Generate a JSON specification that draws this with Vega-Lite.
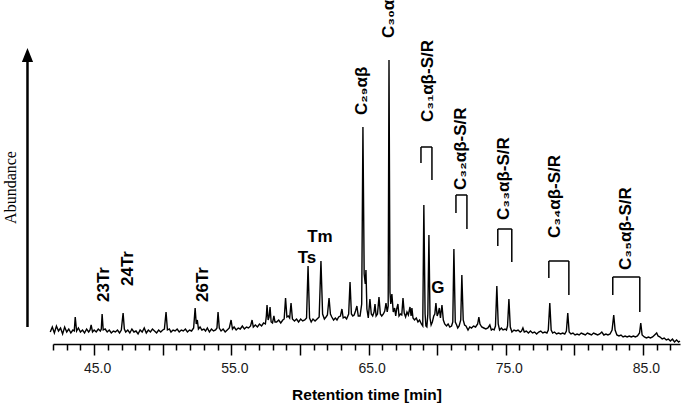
{
"$schema": "https://vega.github.io/schema/vega-lite/v6.json",
"width": 627, "height": 324,
"autosize": {"type": "none"},
"padding": {"left": 53, "top": 20, "right": 5, "bottom": 64},
"background": "white",
"config": {"view": {"stroke": null}},
"resolve": {"axis": {"x": "independent", "y": "independent"}},
"datasets": {
"sig": [
{"t":41.8,"v":12},{"t":41.95,"v":17},{"t":42.1,"v":11},{"t":42.25,"v":18},{"t":42.4,"v":13},{"t":42.55,"v":16},{"t":42.7,"v":10},{"t":42.85,"v":17},{"t":43.0,"v":12},{"t":43.15,"v":15},{"t":43.3,"v":11},{"t":43.45,"v":14},{"t":43.55,"v":13},{"t":43.62,"v":27},{"t":43.72,"v":13},
{"t":43.85,"v":16},{"t":44.0,"v":12},{"t":44.15,"v":14},{"t":44.3,"v":11},{"t":44.45,"v":15},{"t":44.6,"v":12},{"t":44.7,"v":14},{"t":44.78,"v":19},{"t":44.88,"v":12},{"t":45.0,"v":14},{"t":45.15,"v":12},{"t":45.3,"v":15},{"t":45.45,"v":13},{"t":45.52,"v":15},{"t":45.58,"v":30},{"t":45.66,"v":14},{"t":45.8,"v":15},{"t":45.95,"v":12},{"t":46.1,"v":14},{"t":46.25,"v":11},{"t":46.4,"v":13},{"t":46.55,"v":12},{"t":46.7,"v":14},{"t":46.85,"v":11},{"t":46.98,"v":14},{"t":47.04,"v":22},{"t":47.11,"v":31},{"t":47.2,"v":15},{"t":47.3,"v":12},{"t":47.45,"v":14},{"t":47.6,"v":11},{"t":47.75,"v":15},{"t":47.9,"v":12},{"t":48.05,"v":13},{"t":48.2,"v":10},{"t":48.35,"v":14},{"t":48.5,"v":12},{"t":48.65,"v":16},{"t":48.8,"v":11},{"t":48.95,"v":14},{"t":49.1,"v":12},{"t":49.25,"v":15},{"t":49.4,"v":13},{"t":49.55,"v":11},{"t":49.7,"v":14},{"t":49.85,"v":12},{"t":50.0,"v":14},{"t":50.12,"v":15},{"t":50.24,"v":32},{"t":50.34,"v":14},{"t":50.48,"v":15},{"t":50.6,"v":12},{"t":50.75,"v":14},{"t":50.9,"v":13},{"t":51.05,"v":15},{"t":51.2,"v":12},{"t":51.35,"v":14},{"t":51.5,"v":13},{"t":51.65,"v":15},{"t":51.8,"v":12},{"t":51.95,"v":14},{"t":52.1,"v":13},{"t":52.25,"v":16},{"t":52.36,"v":36},{"t":52.44,"v":20},{"t":52.52,"v":24},{"t":52.6,"v":15},{"t":52.72,"v":17},{"t":52.85,"v":14},{"t":53.0,"v":15},{"t":53.12,"v":13},{"t":53.25,"v":16},{"t":53.4,"v":12},{"t":53.55,"v":15},{"t":53.7,"v":13},{"t":53.85,"v":14},{"t":53.95,"v":16},{"t":54.03,"v":32},{"t":54.12,"v":16},{"t":54.25,"v":13},{"t":54.4,"v":15},{"t":54.55,"v":12},{"t":54.7,"v":14},{"t":54.85,"v":16},{"t":54.98,"v":24},{"t":55.08,"v":15},{"t":55.2,"v":17},{"t":55.35,"v":14},{"t":55.5,"v":16},{"t":55.65,"v":15},{"t":55.8,"v":18},{"t":55.95,"v":15},{"t":56.1,"v":17},{"t":56.25,"v":16},{"t":56.4,"v":18},{"t":56.51,"v":24},{"t":56.6,"v":17},{"t":56.75,"v":19},{"t":56.9,"v":17},{"t":57.05,"v":20},{"t":57.2,"v":18},{"t":57.35,"v":21},{"t":57.48,"v":20},{"t":57.55,"v":28},{"t":57.6,"v":39},{"t":57.68,"v":24},{"t":57.75,"v":27},{"t":57.82,"v":37},{"t":57.9,"v":22},{"t":58.0,"v":21},{"t":58.1,"v":28},{"t":58.18,"v":22},{"t":58.3,"v":22},{"t":58.45,"v":24},{"t":58.6,"v":21},{"t":58.75,"v":24},{"t":58.85,"v":25},{"t":58.95,"v":46},{"t":59.05,"v":27},{"t":59.15,"v":28},{"t":59.25,"v":26},{"t":59.35,"v":41},{"t":59.45,"v":25},{"t":59.6,"v":23},{"t":59.75,"v":25},{"t":59.9,"v":22},{"t":60.05,"v":25},{"t":60.2,"v":23},{"t":60.35,"v":24},{"t":60.48,"v":26},{"t":60.59,"v":78},{"t":60.7,"v":26},{"t":60.82,"v":22},{"t":60.95,"v":25},{"t":61.1,"v":23},{"t":61.25,"v":25},{"t":61.4,"v":27},{"t":61.53,"v":83},{"t":61.65,"v":30},{"t":61.78,"v":25},{"t":61.9,"v":27},{"t":62.0,"v":29},{"t":62.12,"v":46},{"t":62.22,"v":30},{"t":62.32,"v":27},{"t":62.45,"v":24},{"t":62.58,"v":26},{"t":62.7,"v":24},{"t":62.82,"v":27},{"t":62.95,"v":28},{"t":63.06,"v":35},{"t":63.15,"v":26},{"t":63.28,"v":27},{"t":63.4,"v":25},{"t":63.55,"v":30},{"t":63.65,"v":62},{"t":63.75,"v":30},{"t":63.85,"v":28},{"t":63.95,"v":29},{"t":64.05,"v":33},{"t":64.15,"v":38},{"t":64.25,"v":28},{"t":64.38,"v":28},{"t":64.5,"v":40},{"t":64.59,"v":217},{"t":64.68,"v":70},{"t":64.76,"v":60},{"t":64.81,"v":74},{"t":64.88,"v":35},{"t":64.98,"v":26},{"t":65.1,"v":45},{"t":65.2,"v":30},{"t":65.3,"v":28},{"t":65.4,"v":32},{"t":65.47,"v":40},{"t":65.55,"v":28},{"t":65.65,"v":30},{"t":65.76,"v":47},{"t":65.86,"v":30},{"t":65.96,"v":28},{"t":66.08,"v":30},{"t":66.18,"v":33},{"t":66.27,"v":41},{"t":66.36,"v":32},{"t":66.43,"v":38},{"t":66.49,"v":284},{"t":66.56,"v":52},{"t":66.62,"v":40},{"t":66.7,"v":50},{"t":66.8,"v":32},{"t":66.9,"v":36},{"t":66.98,"v":28},{"t":67.05,"v":35},{"t":67.14,"v":40},{"t":67.22,"v":28},{"t":67.32,"v":30},{"t":67.42,"v":29},{"t":67.51,"v":46},{"t":67.6,"v":31},{"t":67.7,"v":27},{"t":67.8,"v":32},{"t":67.9,"v":29},{"t":68.02,"v":37},{"t":68.1,"v":28},{"t":68.16,"v":36},{"t":68.24,"v":26},{"t":68.35,"v":24},{"t":68.48,"v":26},{"t":68.6,"v":22},{"t":68.72,"v":24},{"t":68.85,"v":20},{"t":68.95,"v":18},{"t":69.03,"v":139},{"t":69.12,"v":30},{"t":69.18,"v":18},{"t":69.25,"v":17},{"t":69.32,"v":30},{"t":69.4,"v":109},{"t":69.48,"v":26},{"t":69.56,"v":19},{"t":69.65,"v":22},{"t":69.75,"v":28},{"t":69.83,"v":30},{"t":69.91,"v":41},{"t":70.0,"v":28},{"t":70.08,"v":31},{"t":70.16,"v":36},{"t":70.24,"v":26},{"t":70.35,"v":39},{"t":70.45,"v":24},{"t":70.55,"v":20},{"t":70.68,"v":18},{"t":70.8,"v":20},{"t":70.92,"v":17},{"t":71.05,"v":18},{"t":71.14,"v":22},{"t":71.22,"v":95},{"t":71.32,"v":22},{"t":71.42,"v":19},{"t":71.5,"v":16},{"t":71.6,"v":18},{"t":71.72,"v":24},{"t":71.8,"v":69},{"t":71.9,"v":24},{"t":72.0,"v":19},{"t":72.1,"v":18},{"t":72.25,"v":14},{"t":72.38,"v":17},{"t":72.5,"v":16},{"t":72.65,"v":18},{"t":72.8,"v":17},{"t":72.95,"v":20},{"t":73.04,"v":27},{"t":73.12,"v":20},{"t":73.25,"v":17},{"t":73.4,"v":16},{"t":73.55,"v":15},{"t":73.7,"v":16},{"t":73.84,"v":19},{"t":73.95,"v":14},{"t":74.05,"v":15},{"t":74.15,"v":14},{"t":74.25,"v":18},{"t":74.35,"v":58},{"t":74.45,"v":20},{"t":74.55,"v":14},{"t":74.68,"v":16},{"t":74.8,"v":14},{"t":74.95,"v":15},{"t":75.05,"v":14},{"t":75.13,"v":18},{"t":75.23,"v":45},{"t":75.33,"v":17},{"t":75.45,"v":12},{"t":75.6,"v":14},{"t":75.75,"v":13},{"t":75.9,"v":14},{"t":76.05,"v":12},{"t":76.15,"v":13},{"t":76.25,"v":16},{"t":76.35,"v":12},{"t":76.5,"v":13},{"t":76.65,"v":11},{"t":76.8,"v":13},{"t":76.95,"v":11},{"t":77.1,"v":12},{"t":77.25,"v":10},{"t":77.4,"v":12},{"t":77.55,"v":13},{"t":77.7,"v":11},{"t":77.85,"v":12},{"t":78.0,"v":11},{"t":78.1,"v":14},{"t":78.21,"v":41},{"t":78.31,"v":14},{"t":78.42,"v":11},{"t":78.55,"v":12},{"t":78.7,"v":10},{"t":78.85,"v":11},{"t":79.0,"v":10},{"t":79.15,"v":11},{"t":79.3,"v":10},{"t":79.42,"v":13},{"t":79.52,"v":31},{"t":79.62,"v":12},{"t":79.75,"v":10},{"t":79.9,"v":11},{"t":80.05,"v":9},{"t":80.2,"v":10},{"t":80.35,"v":9},{"t":80.5,"v":11},{"t":80.65,"v":10},{"t":80.8,"v":9},{"t":80.95,"v":11},{"t":81.1,"v":10},{"t":81.25,"v":9},{"t":81.4,"v":11},{"t":81.55,"v":10},{"t":81.7,"v":9},{"t":81.85,"v":10},{"t":82.0,"v":12},{"t":82.15,"v":9},{"t":82.3,"v":10},{"t":82.45,"v":9},{"t":82.6,"v":10},{"t":82.75,"v":14},{"t":82.87,"v":29},{"t":82.97,"v":14},{"t":83.1,"v":9},{"t":83.25,"v":8},{"t":83.4,"v":9},{"t":83.55,"v":7},{"t":83.7,"v":8},{"t":83.85,"v":7},{"t":84.0,"v":8},{"t":84.15,"v":7},{"t":84.3,"v":8},{"t":84.45,"v":7},{"t":84.6,"v":8},{"t":84.75,"v":11},{"t":84.84,"v":21},{"t":84.94,"v":9},{"t":85.1,"v":7},{"t":85.25,"v":6},{"t":85.4,"v":7},{"t":85.55,"v":6},{"t":85.7,"v":7},{"t":85.85,"v":9},{"t":86.0,"v":11},{"t":86.1,"v":8},{"t":86.25,"v":7},{"t":86.4,"v":5},{"t":86.55,"v":6},{"t":86.7,"v":4},{"t":86.85,"v":5},{"t":87.0,"v":3},{"t":87.15,"v":5},{"t":87.3,"v":2},{"t":87.45,"v":4},{"t":87.6,"v":2},{"t":87.7,"v":3}
],
"rot": [
{"t":45.73,"v":42,"s":"23Tr"},{"t":47.48,"v":58,"s":"24Tr"},{"t":52.94,"v":42,"s":"26Tr"},
{"t":64.52,"v":229,"s":"C₂₉αβ"},{"t":66.49,"v":306,"s":"C₃₀αβ"},{"t":69.33,"v":222,"s":"C₃₁αβ-S/R"},{"t":71.73,"v":154,"s":"C₃₂αβ-S/R"},{"t":74.86,"v":124,"s":"C₃₃αβ-S/R"},{"t":78.58,"v":106,"s":"C₃₄αβ-S/R"},{"t":83.75,"v":74,"s":"C₃₅αβ-S/R"}
],
"hor": [
{"t":60.51,"v":81,"s":"Ts"},{"t":61.46,"v":102,"s":"Tm"},{"t":70.05,"v":51,"s":"G"}
],
"br": [
{"t1":68.82,"t2":69.62,"v1":197,"v2":197},{"t1":68.82,"t2":68.82,"v1":197,"v2":181},{"t1":69.62,"t2":69.62,"v1":197,"v2":164},
{"t1":71.37,"t2":72.17,"v1":149,"v2":149},{"t1":71.37,"t2":71.37,"v1":149,"v2":131},{"t1":72.17,"t2":72.17,"v1":149,"v2":115},
{"t1":74.42,"t2":75.44,"v1":115,"v2":115},{"t1":74.42,"t2":74.42,"v1":115,"v2":98},{"t1":75.44,"t2":75.44,"v1":115,"v2":82},
{"t1":78.14,"t2":79.6,"v1":83,"v2":83},{"t1":78.14,"t2":78.14,"v1":83,"v2":66},{"t1":79.6,"t2":79.6,"v1":83,"v2":49},
{"t1":82.8,"t2":84.77,"v1":67,"v2":67},{"t1":82.8,"t2":82.8,"v1":67,"v2":49},{"t1":84.77,"t2":84.77,"v1":67,"v2":32}
],
"arr": [{"t":40.14,"v":17,"v2":283}],
"head": [{"t":40.14,"v":289}]
},
"layer": [
{
"data": {"name": "sig"},
"mark": {"type": "line", "color": "black", "strokeWidth": 1.4},
"encoding": {
"x": {"field": "t", "type": "quantitative", "scale": {"domain": [42, 87.7], "nice": false, "zero": false},
"axis": {"orient": "bottom", "title": "Retention time [min]", "values": [45,50,55,60,65,70,75,80,85],
"tickSize": 11,
"labelExpr": "datum.value % 10 === 5 ? format(datum.value, '.1f') : ''",
"labelFont": "Liberation Sans", "labelFontSize": 14, "labelColor": "#1a1a1a", "labelPadding": 6, "labelOffset": 3, "labelOverlap": false, "labelFlush": false,
"domainColor": "black", "domainWidth": 1.5, "tickColor": "black", "tickWidth": 1.5, "grid": false,
"titleFont": "Liberation Sans", "titleFontSize": 15.5, "titleFontWeight": "bold", "titleColor": "black", "titlePadding": 12}},
"y": {"field": "v", "type": "quantitative", "scale": {"domain": [0, 324], "nice": false, "zero": false},
"axis": {"orient": "left", "title": "Abundance", "domain": false, "ticks": false, "labels": false, "grid": false,
"titleFont": "Liberation Serif", "titleFontSize": 16, "titleFontWeight": "normal", "titleColor": "black",
"titleAngle": 270, "titleBaseline": "alphabetic", "titleAlign": "center", "titleX": -38, "titleY": 167}}
}
},
{
"data": {"name": "arr"},
"mark": {"type": "rule", "color": "black", "strokeWidth": 2.5},
"encoding": {
"x": {"field": "t", "type": "quantitative",
"axis": {"orient": "bottom", "title": null, "values": [42,43,44,46,47,48,49,51,52,53,54,56,57,58,59,61,62,63,64,66,67,68,69,71,72,73,74,76,77,78,79,81,82,83,84,86,87],
"labels": false, "domain": false, "tickSize": 6, "tickColor": "black", "tickWidth": 1.5, "grid": false}},
"y": {"field": "v", "type": "quantitative", "axis": null},
"y2": {"field": "v2"}
}
},
{
"data": {"name": "head"},
"mark": {"type": "point", "shape": "M0,-1L-0.8,1L0.8,1Z", "size": 196, "filled": true, "color": "black", "opacity": 1},
"encoding": {
"x": {"field": "t", "type": "quantitative", "axis": null},
"y": {"field": "v", "type": "quantitative", "axis": null}
}
},
{
"data": {"name": "br"},
"mark": {"type": "rule", "color": "black", "strokeWidth": 1.5},
"encoding": {
"x": {"field": "t1", "type": "quantitative", "axis": null},
"x2": {"field": "t2"},
"y": {"field": "v1", "type": "quantitative", "axis": null},
"y2": {"field": "v2"}
}
},
{
"data": {"name": "rot"},
"mark": {"type": "text", "angle": 270, "align": "left", "baseline": "middle", "font": "Liberation Sans", "fontSize": 17, "fontWeight": "bold", "color": "black"},
"encoding": {
"x": {"field": "t", "type": "quantitative", "axis": null},
"y": {"field": "v", "type": "quantitative", "axis": null},
"text": {"field": "s"}
}
},
{
"data": {"name": "hor"},
"mark": {"type": "text", "align": "center", "baseline": "alphabetic", "font": "Liberation Sans", "fontSize": 17, "fontWeight": "bold", "color": "black"},
"encoding": {
"x": {"field": "t", "type": "quantitative", "axis": null},
"y": {"field": "v", "type": "quantitative", "axis": null},
"text": {"field": "s"}
}
}
]
}
